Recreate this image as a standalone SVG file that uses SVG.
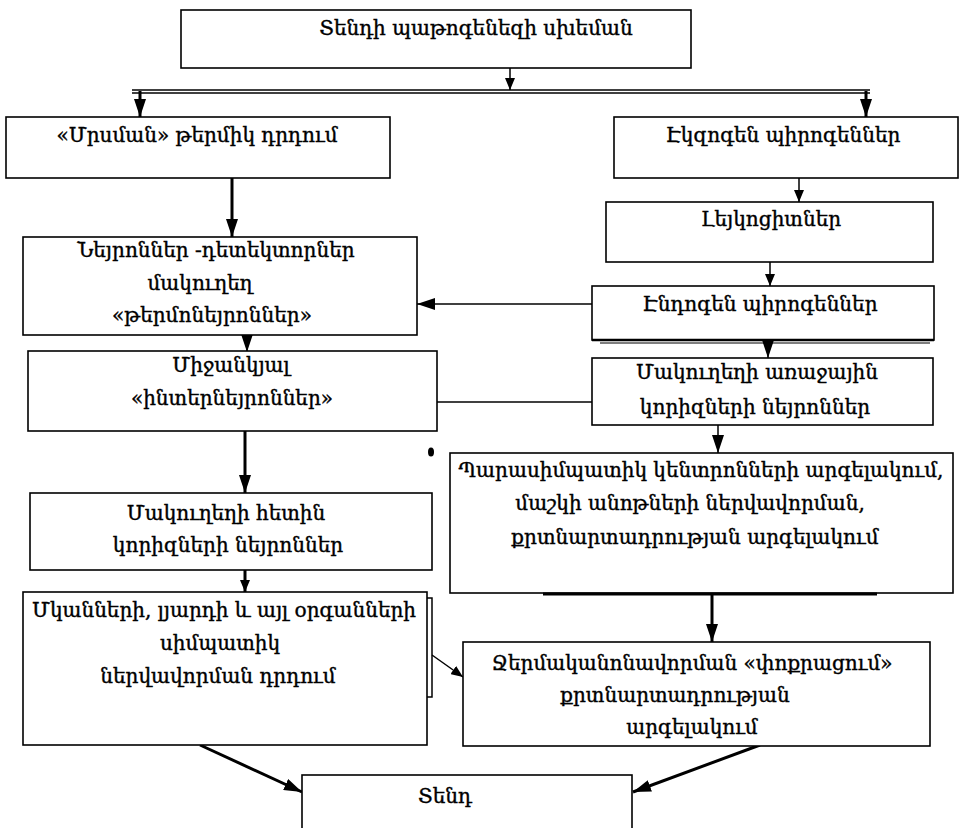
<svg xmlns="http://www.w3.org/2000/svg" width="963" height="828" viewBox="0 0 963 828">
  <style>
    .box { fill: #fff; stroke: #000; stroke-width: 1.6; }
    .lbl { font-family: "DejaVu Serif", "DejaVu Sans", serif; font-size: 20px; fill: #000; stroke: #000; stroke-width: 0.4; text-anchor: middle; }
    .ln { fill: none; stroke: #000; stroke-width: 1.5; }
    .thick { fill: none; stroke: #000; stroke-width: 3; }
  </style>
  <defs>
    <marker id="ah" viewBox="0 0 12 10" refX="12" refY="5" markerWidth="12" markerHeight="10" orient="auto" markerUnits="userSpaceOnUse">
      <path d="M0,0 L12,5 L0,10 Z" fill="#000"/>
    </marker>
    <marker id="ahBig" viewBox="0 0 18 12" refX="18" refY="6" markerWidth="18" markerHeight="12" orient="auto" markerUnits="userSpaceOnUse">
      <path d="M0,0 L18,6 L0,12 Z" fill="#000"/>
    </marker>
  </defs>

  <rect width="963" height="828" fill="#fff"/>

  <!-- connectors -->
  <g id="connectors">
    <line class="ln" x1="510" y1="68" x2="510" y2="90" marker-end="url(#ah)"/>
    <line class="ln" x1="132" y1="90" x2="870" y2="90"/>
    <line class="ln" x1="132" y1="93" x2="870" y2="93"/>
    <line class="thick" x1="140" y1="91" x2="140" y2="117" marker-end="url(#ahBig)"/>
    <line class="thick" x1="866" y1="91" x2="866" y2="117" marker-end="url(#ahBig)"/>
    <line class="thick" x1="232" y1="178" x2="232" y2="237" marker-end="url(#ahBig)"/>
    <line class="ln" x1="799" y1="178" x2="799" y2="202" marker-end="url(#ah)"/>
    <line class="ln" x1="770" y1="262" x2="770" y2="286" marker-end="url(#ah)"/>
    <line class="ln" x1="592" y1="304" x2="417" y2="304" marker-end="url(#ahBig)"/>
    <line class="ln" x1="247" y1="335" x2="247" y2="352" marker-end="url(#ahBig)"/>
    <line class="ln" x1="768" y1="341" x2="768" y2="358" marker-end="url(#ahBig)"/>
    <line class="ln" x1="437" y1="402" x2="592" y2="402"/>
    <line class="thick" x1="245" y1="431" x2="245" y2="493" marker-end="url(#ahBig)"/>
    <line class="ln" x1="718" y1="425" x2="718" y2="453" marker-end="url(#ahBig)"/>
    <line class="thick" x1="245" y1="570" x2="245" y2="592" marker-end="url(#ah)"/>
    <line class="thick" x1="712" y1="594" x2="712" y2="642" marker-end="url(#ahBig)"/>
    <line class="ln" x1="432" y1="655" x2="463" y2="677" marker-end="url(#ah)"/>
    <line class="thick" x1="200" y1="745" x2="302" y2="792" marker-end="url(#ahBig)"/>
    <line class="thick" x1="760" y1="745" x2="633" y2="792" marker-end="url(#ahBig)"/>
  </g>

  <g id="n-title">
    <rect class="box" x="181" y="10" width="510" height="58"/>
    <text class="lbl" x="476" y="35">Տենդի պաթոգենեզի սխեման</text>
  </g>

  <g id="n-chill">
    <rect class="box" x="6" y="117" width="384" height="61"/>
    <text class="lbl" x="197" y="142">«Մրսման» թերմիկ դրդում</text>
  </g>

  <g id="n-exo">
    <rect class="box" x="614" y="117" width="344" height="61"/>
    <text class="lbl" x="783" y="142">Էկզոգեն պիրոգեններ</text>
  </g>

  <g id="n-leuko">
    <rect class="box" x="606" y="202" width="327" height="60"/>
    <text class="lbl" x="771" y="226">Լեյկոցիտներ</text>
  </g>

  <g id="n-endo">
    <rect class="box" x="592" y="286" width="342" height="54"/>
    <line x1="592" y1="340" x2="934" y2="340" stroke="#000" stroke-width="2.5"/>
    <line x1="600" y1="343" x2="930" y2="343" stroke="#000" stroke-width="1.2"/>
    <text class="lbl" x="760" y="311">Էնդոգեն պիրոգեններ</text>
  </g>

  <g id="n-thermo">
    <rect class="box" x="23" y="237" width="394" height="98"/>
    <text class="lbl" x="216" y="257">Նեյրոններ -դետեկտորներ</text>
    <text class="lbl" x="200" y="290">մակուղեղ</text>
    <text class="lbl" x="212" y="322">«թերմոնեյրոններ»</text>
  </g>

  <g id="n-inter">
    <rect class="box" x="28" y="351" width="409" height="80"/>
    <text class="lbl" x="231" y="372">Միջանկյալ</text>
    <text class="lbl" x="232" y="405">«ինտերնեյրոններ»</text>
  </g>

  <g id="n-anterior">
    <rect class="box" x="592" y="358" width="341" height="67"/>
    <text class="lbl" x="757" y="379">Մակուղեղի առաջային</text>
    <text class="lbl" x="755" y="414">կորիզների նեյրոններ</text>
  </g>

  <g id="n-posterior">
    <rect class="box" x="30" y="493" width="402" height="77"/>
    <text class="lbl" x="226" y="520">Մակուղեղի հետին</text>
    <text class="lbl" x="228" y="552">կորիզների նեյրոններ</text>
  </g>

  <g id="n-parasym">
    <rect class="box" x="450" y="453" width="503" height="140"/>
    <line x1="543" y1="594" x2="877" y2="594" stroke="#000" stroke-width="3"/>
    <text class="lbl" x="701" y="477">Պարասիմպատիկ կենտրոնների արգելակում,</text>
    <text class="lbl" x="690" y="510">մաշկի անոթների ներվավորման,</text>
    <text class="lbl" x="695" y="544">քրտնարտադրության արգելակում</text>
  </g>

  <g id="n-sym">
    <rect class="box" x="23" y="592" width="404" height="153"/>
    <path class="ln" d="M427,598 H432 V697 H427"/>
    <text class="lbl" x="224" y="617">Մկանների, լյարդի և այլ օրգանների</text>
    <text class="lbl" x="220" y="650">սիմպատիկ</text>
    <text class="lbl" x="218" y="683">ներվավորման դրդում</text>
  </g>

  <g id="n-thermoreg">
    <rect class="box" x="463" y="642" width="467" height="104"/>
    <text class="lbl" x="692" y="670">Ջերմականոնավորման «փոքրացում»</text>
    <text class="lbl" x="675" y="702">քրտնարտադրության</text>
    <text class="lbl" x="692" y="734">արգելակում</text>
  </g>

  <g id="n-fever">
    <rect class="box" x="302" y="775" width="330" height="70"/>
    <text class="lbl" x="445" y="803">Տենդ</text>
  </g>

  <ellipse cx="431" cy="452" rx="3" ry="4.5" fill="#000"/>
</svg>
